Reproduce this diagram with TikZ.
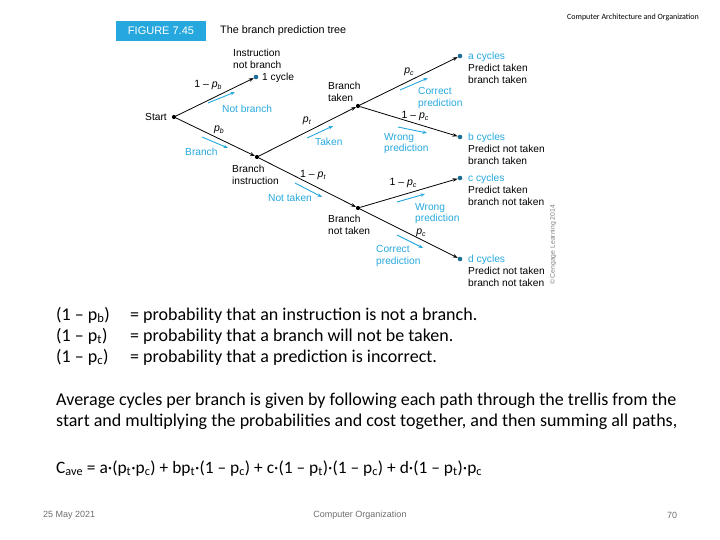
\documentclass[tikz,border=0pt]{standalone}
\usepackage{fontspec}
\setmainfont{Carlito}
\newfontfamily\arialf{Liberation Sans}
\usetikzlibrary{arrows.meta}
\definecolor{cblue}{RGB}{38,168,222}
\definecolor{dotblue}{RGB}{25,110,145}
\definecolor{footgray}{RGB}{110,110,110}
\begin{document}
\begin{tikzpicture}[x=1pt,y=-1pt,
  bdot/.style={circle,fill=black,inner sep=0pt,minimum size=4.2pt},
  edot/.style={circle,fill=dotblue,inner sep=0pt,minimum size=4.6pt},
  edge/.style={draw=black,line width=0.8pt,-{Stealth[length=5pt,width=3.6pt]}},
  barrow/.style={draw=cblue,line width=0.9pt,-{Stealth[length=4.5pt,width=3.4pt]}},
  lab/.style={font=\arialf\fontsize{10.2}{11}\selectfont,inner sep=0pt,anchor=base west},
  blab/.style={lab,text=cblue},
  plab/.style={font=\arialf\fontsize{10.5}{11}\selectfont,inner sep=0pt},
  body/.style={font=\fontsize{18}{21}\selectfont,inner sep=0pt,anchor=base west},
  foot/.style={font=\arialf\fontsize{9}{10}\selectfont,text=footgray,inner sep=0pt}
]
\useasboundingbox (0,0) rectangle (720,540);
% header
\node[font=\fontsize{8}{9}\selectfont,inner sep=0pt,anchor=east] (hdr) at (699,17) {Computer Architecture and Organization};
\node[fill=cblue,text=white,font=\arialf\fontsize{11}{12}\selectfont,minimum width=90pt,minimum height=20pt,inner sep=0pt] (fig) at (161,31) {FIGURE 7.45};
\node[font=\arialf\fontsize{10.8}{12}\selectfont,inner sep=0pt,anchor=west] (ttl) at (220,31) {The branch prediction tree};
% dots
\node[bdot] (start) at (174,117) {};
\node[edot] (nb) at (256,77) {};
\node[bdot] (bi) at (257,157) {};
\node[bdot] (bt) at (358,106) {};
\node[bdot] (bnt) at (358,208) {};
\node[edot] (a) at (460,56) {};
\node[edot] (b) at (460,137) {};
\node[edot] (c) at (460,178) {};
\node[edot] (d) at (460,259) {};
% edges
\draw[edge] (start) -- (nb);
\draw[edge] (start) -- (bi);
\draw[edge] (bi) -- (bt);
\draw[edge] (bi) -- (bnt);
\draw[edge] (bt) -- (a);
\draw[edge] (bt) -- (b);
\draw[edge] (bnt) -- (c);
\draw[edge] (bnt) -- (d);
% edge labels
\node[plab] (l1) at (208,85) {1 – \textit{p}\raisebox{-0.3ex}{\scriptsize\textit{b}}};
\node[plab] (l2) at (219,130) {\textit{p}\raisebox{-0.3ex}{\scriptsize\textit{b}}};
\node[plab] (l3) at (307,121) {\textit{p}\raisebox{-0.3ex}{\scriptsize\textit{t}}};
\node[plab] (l4) at (409,72) {\textit{p}\raisebox{-0.3ex}{\scriptsize\textit{c}}};
\node[plab] (l5) at (415,116) {1 – \textit{p}\raisebox{-0.3ex}{\scriptsize\textit{c}}};
\node[plab] (l6) at (313,175) {1 – \textit{p}\raisebox{-0.3ex}{\scriptsize\textit{t}}};
\node[plab] (l7) at (403,183) {1 – \textit{p}\raisebox{-0.3ex}{\scriptsize\textit{c}}};
\node[plab] (l8) at (421,233) {\textit{p}\raisebox{-0.3ex}{\scriptsize\textit{c}}};
% blue arrows
\coordinate (n1) at (208,103); \coordinate (n2) at (235,92);
\draw[barrow] (n1) -- (n2);
\coordinate (br1) at (202,137); \coordinate (br2) at (228,148);
\draw[barrow] (br1) -- (br2);
\coordinate (t1) at (307,138); \coordinate (t2) at (333,126);
\draw[barrow] (t1) -- (t2);
\coordinate (c1) at (400,90); \coordinate (c2) at (428,78);
\draw[barrow] (c1) -- (c2);
\coordinate (w1) at (398,127); \coordinate (w2) at (427,133);
\draw[barrow] (w1) -- (w2);
\coordinate (nt1) at (295,183); \coordinate (nt2) at (322,197);
\draw[barrow] (nt1) -- (nt2);
\coordinate (w3) at (397,202); \coordinate (w4) at (425,194);
\draw[barrow] (w3) -- (w4);
\coordinate (c3) at (397,235); \coordinate (c4) at (423,248);
\draw[barrow] (c3) -- (c4);
% black labels
\node[lab] (t01) at (233,56.6) {Instruction};
\node[lab] (t02) at (233,68.6) {not branch};
\node[lab] (t03) at (262,80.6) {1 cycle};
\node[lab] (t04) at (145,120.6) {Start};
\node[lab] (t05) at (328,89.6) {Branch};
\node[lab] (t06) at (328,101.6) {taken};
\node[lab] (t07) at (468,71.6) {Predict taken};
\node[lab] (t08) at (468,83.6) {branch taken};
\node[lab] (t09) at (468,152.6) {Predict not taken};
\node[lab] (t10) at (468,164.6) {branch taken};
\node[lab] (t11) at (232,172.6) {Branch};
\node[lab] (t12) at (232,184.6) {instruction};
\node[lab] (t13) at (468,193.6) {Predict taken};
\node[lab] (t14) at (468,205.6) {branch not taken};
\node[lab] (t15) at (328,222.6) {Branch};
\node[lab] (t16) at (328,234.6) {not taken};
\node[lab] (t17) at (468,274.6) {Predict not taken};
\node[lab] (t18) at (468,286.6) {branch not taken};
% blue labels
\node[blab] (u01) at (468,59.6) {a cycles};
\node[blab] (u02) at (468,140.6) {b cycles};
\node[blab] (u03) at (468,181.6) {c cycles};
\node[blab] (u04) at (468,262.6) {d cycles};
\node[blab] (u05) at (222,112.6) {Not branch};
\node[blab] (u06) at (185,155.6) {Branch};
\node[blab] (u07) at (315,145.6) {Taken};
\node[blab] (u08) at (418,94.6) {Correct};
\node[blab] (u09) at (418,106.6) {prediction};
\node[blab] (u10) at (384,140.6) {Wrong};
\node[blab] (u11) at (384,151.6) {prediction};
\node[blab] (u12) at (268,201.6) {Not taken};
\node[blab] (u13) at (415,210.6) {Wrong};
\node[blab] (u14) at (415,222.0) {prediction};
\node[blab] (u15) at (376,252.6) {Correct};
\node[blab] (u16) at (376,264.6) {prediction};
% copyright
\node[font=\arialf\fontsize{6.8}{7}\selectfont,text=gray,rotate=90,inner sep=0pt] (copy) at (553,245) {© Cengage Learning 2014};
% body text
\node[body] (d1) at (56,320) {(1 – p\textsubscript{b})};
\node[body] (d2) at (56,341) {(1 – p\textsubscript{t})};
\node[body] (d3) at (56,362) {(1 – p\textsubscript{c})};
\node[body] (e1) at (130,320) {= probability that an instruction is not a branch.};
\node[body] (e2) at (130,341) {= probability that a branch will not be taken.};
\node[body] (e3) at (130,362) {= probability that a prediction is incorrect.};
\node[body] (p1) at (56,405) {Average cycles per branch is given by following each path through the trellis from the};
\node[body] (p2) at (56,426) {start and multiplying the probabilities and cost together, and then summing all paths,};
\node[body,font=\fontsize{17.4}{21}\selectfont] (f1) at (56,473) {C\textsubscript{ave} = a·(p\textsubscript{t}·p\textsubscript{c}) + bp\textsubscript{t}·(1 – p\textsubscript{c}) + c·(1 – p\textsubscript{t})·(1 – p\textsubscript{c}) + d·(1 – p\textsubscript{t})·p\textsubscript{c}};
% footer
\node[foot,anchor=west] (ft1) at (43,515) {25 May 2021};
\node[foot] (ft2) at (360,515) {Computer Organization};
\node[foot] (ft3) at (672,515) {70};
\end{tikzpicture}
\end{document}
